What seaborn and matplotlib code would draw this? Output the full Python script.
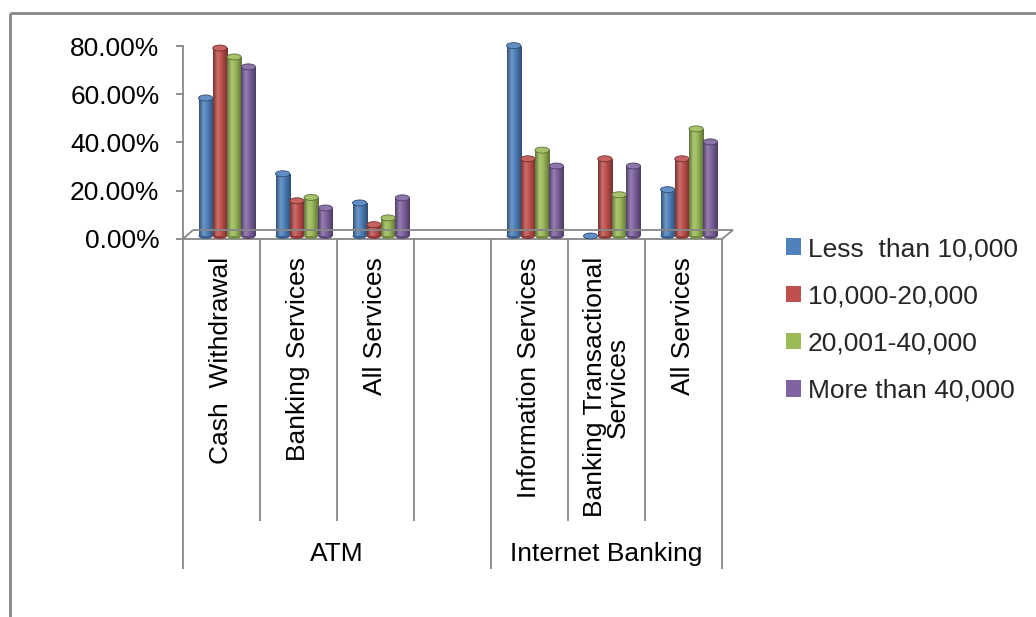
import numpy as np
import pandas as pd
import matplotlib
matplotlib.use("Agg")
import matplotlib.pyplot as plt
import seaborn as sns
from matplotlib.colors import LinearSegmentedColormap, to_rgb
from matplotlib.patches import Ellipse, Rectangle
from matplotlib.lines import Line2D
from matplotlib.ticker import FuncFormatter

# ---- data -------------------------------------------------------------
groups = ["ATM", "Internet Banking"]
atm_services = ["Cash  Withdrawal", "Banking Services", "All Services"]
ib_services = ["Information Services", "Banking Transactional\nServices", "All Services"]
series = ["Less  than 10,000", "10,000-20,000", "20,001-40,000", "More than 40,000"]
colors = ["#4F81BD", "#C0504D", "#9BBB59", "#8064A2"]

# percentages, one value per service (ATM x3, Internet Banking x3)
less_10k = [57.2, 25.8, 13.7, 78.9, 0.0, 19.2]
from_10k_20k = [77.9, 14.6, 4.7, 32.0, 32.0, 32.0]
from_20k_40k = [74.2, 16.0, 7.5, 35.6, 17.1, 44.4]
over_40k = [70.1, 11.6, 15.8, 29.0, 29.0, 39.0]
yticks = [0, 20, 40, 60, 80]

# ---- long-form table ---------------------------------------------------
keys = [f"ATM|{s}" for s in atm_services] + [f"IB|{s}" for s in ib_services]
order = keys[:3] + ["gap"] + keys[3:]
labels_in_order = atm_services + [""] + ib_services
rows = []
for name, vals in zip(series, [less_10k, from_10k_20k, from_20k_40k, over_40k]):
    for k, v in zip(keys, vals):
        rows.append({"key": k, "series": name, "value": v})
df = pd.DataFrame(rows)

# ---- style -------------------------------------------------------------
sns.set_theme(style="white")
plt.rcParams["font.family"] = ["Liberation Sans", "DejaVu Sans"]
FS = 19
GRAY = "#878787"

W, H = 1036, 617
fig = plt.figure(figsize=(W / 100, H / 100), dpi=100)
fig.patch.set_facecolor("white")


def fx(px):
    return px / W


def fy(py):
    return 1 - py / H


SLOT = 77
X0 = 183
YBASE = 239
YH = 193

# front axes: value axis and floor edge
axf = fig.add_axes([fx(X0), fy(YBASE), 7 * SLOT / W, YH / H])
axf.patch.set_visible(False)
axf.set_xlim(0, 1)
axf.set_ylim(0, 80)
axf.set_xticks([])
axf.set_yticks(yticks)
axf.yaxis.set_major_formatter(FuncFormatter(lambda v, _: f"{v:.2f}%"))
for side in ["top", "right"]:
    axf.spines[side].set_visible(False)
for side in ["left", "bottom"]:
    axf.spines[side].set_color(GRAY)
    axf.spines[side].set_linewidth(1.3)
axf.tick_params(axis="y", direction="out", length=5, width=1.3, color=GRAY,
                pad=12, labelsize=FS, labelcolor="black", left=True)

# bar axes, set slightly back (3-D depth) from the front plane
ax = fig.add_axes([fx(X0 + 5.5), fy(YBASE - 3), 7 * SLOT / W, YH / H])
ax.patch.set_visible(False)
sns.barplot(data=df, x="key", y="value", hue="series", order=order,
            hue_order=series, palette=colors, saturation=1, width=0.74,
            errorbar=None, linewidth=0, legend=False, ax=ax)
ax.set_xlim(-0.5, 6.5)
ax.set_ylim(0, 80)

px_per_unit = YH / 80.0
ell_h = 6 / px_per_unit


def shade(c, f):
    r, g, b = to_rgb(c)
    if f < 1:
        return (r * f, g * f, b * f)
    return tuple(min(1, x + (1 - x) * (f - 1)) for x in (r, g, b))


grad = np.linspace(0, 1, 64).reshape(1, -1)
for patch in list(ax.patches):
    if not isinstance(patch, Rectangle):
        continue
    w = patch.get_width()
    if w <= 0:
        continue
    x0 = patch.get_x()
    h = patch.get_height()
    base = to_rgb(patch.get_facecolor())
    patch.set_facecolor("none")
    cmap = LinearSegmentedColormap.from_list(
        "cyl", [(0.0, shade(base, 0.62)), (0.3, shade(base, 1.18)),
                (0.55, base), (1.0, shade(base, 0.6))])
    cx = x0 + w / 2
    if h > 0:
        ax.add_patch(Ellipse((cx, 0), w, ell_h, facecolor=shade(base, 0.75),
                             edgecolor="none", zorder=1.9, clip_on=False))
        im = ax.imshow(grad, extent=(x0, x0 + w, 0, h), aspect="auto",
                       cmap=cmap, origin="lower", zorder=2,
                       interpolation="bicubic")
        im.set_clip_path(patch)
    ax.add_patch(Ellipse((cx, h), w, ell_h, facecolor=shade(base, 1.1),
                         edgecolor=shade(base, 0.6), linewidth=0.6,
                         zorder=3, clip_on=False))
ax.set_xlim(-0.5, 6.5)
ax.set_ylim(0, 80)
ax.axis("off")


def fline(xs, ys, lw=1.3, color=GRAY):
    fig.add_artist(Line2D([fx(x) for x in xs], [fy(y) for y in ys],
                          color=color, linewidth=lw, solid_capstyle="butt"))


# 3-D floor edges
fline([X0 + 10, X0 + 7 * SLOT + 11], [YBASE - 9, YBASE - 9])
fline([X0, X0 + 10], [YBASE, YBASE - 9])
fline([X0 + 7 * SLOT, X0 + 7 * SLOT + 11], [YBASE, YBASE - 9])

# multi-level category axis
bounds = [X0 + SLOT * i for i in range(8)]
for i, b in enumerate(bounds):
    bottom = 569 if i in (0, 4, 7) else 521
    fline([b, b], [YBASE, bottom])

for i, lab in enumerate(labels_in_order):
    if not lab:
        continue
    cx = X0 + SLOT * (i + 0.5)
    fig.text(fx(cx), fy(257), lab, rotation=90, ha="center", va="top",
             multialignment="center", fontsize=FS, color="black",
             linespacing=0.95)

fig.text(fx((bounds[0] + bounds[4]) / 2), fy(554), groups[0], ha="center",
         va="center", fontsize=FS, color="black")
fig.text(fx((bounds[4] + bounds[7]) / 2), fy(554), groups[1], ha="center",
         va="center", fontsize=FS, color="black")

# legend
handles = [Rectangle((0, 0), 1, 1, facecolor=c, edgecolor="none") for c in colors]
fig.legend(handles, series, loc="upper left", bbox_to_anchor=(fx(786), fy(237)),
           frameon=False, fontsize=FS, handlelength=0.58, handleheight=0.58,
           handletextpad=0.25, labelspacing=0.88, borderaxespad=0, borderpad=0)

# chart-area border (left and top edges)
fline([10, 10], [13, 617], lw=2)
fline([10, 1036], [13, 13], lw=2)

fig.savefig("out.png", dpi=100, facecolor="white")
